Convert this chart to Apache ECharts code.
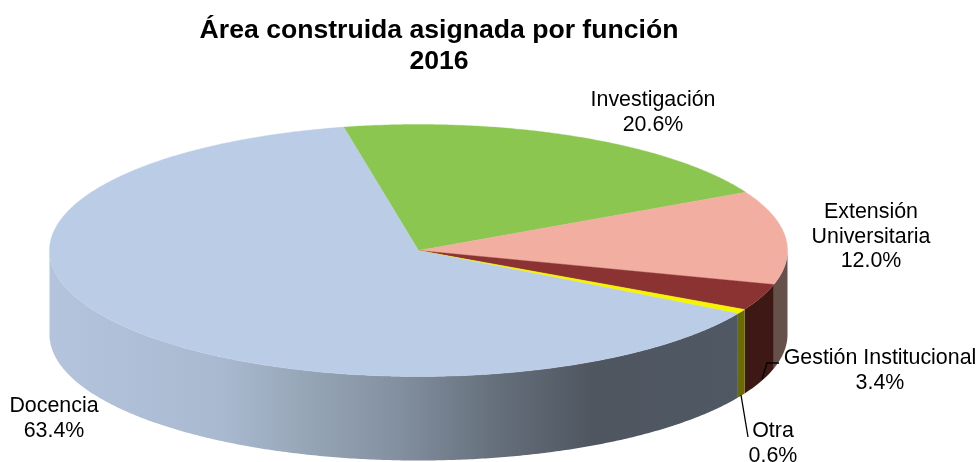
<!DOCTYPE html>
<html><head><meta charset="utf-8">
<style>html,body{margin:0;padding:0;background:#fff}#c{width:977px;height:462px}</style>
<script src="https://cdn.jsdelivr.net/npm/echarts@6/dist/echarts.min.js"></script>
</head><body><div id="c"></div>
<script>
const categories = ['Investigación', 'Extensión\nUniversitaria', 'Gestión Institucional', 'Otra', 'Docencia'];
const shares = [20.6, 12.0, 3.4, 0.6, 63.4];
const topColors = ['#8BC750', '#F2AEA0', '#8B3232', '#F5F500', '#BBCDE6'];
const wallColors = ['#5A7A38', '#66504A', '#3E1815', '#6B6B00', null];
const labelAnchors = [[653, 100], [871, 212], [880, 358], [773, 431], [54, 406]];
const docenciaWallStops = [[0, '#B3C4DC'], [0.25, '#A9B9D0'], [0.364, '#98A7B8'], [0.51, '#828F9F'], [0.655, '#646E7A'], [0.79, '#4F5660'], [1, '#4F5863']];

const cx = 418.5, cy = 250.5, rx = 369, ry = 126, depth = 84, startDeg = 101.7;
const total = shares.reduce((a, b) => a + b, 0);
const pt = (deg, dy) => {
  const r = deg * Math.PI / 180;
  return [cx + rx * Math.cos(r), cy - ry * Math.sin(r) + (dy || 0)];
};
function arc(from, to, dy) {
  const out = [], n = Math.max(2, Math.ceil(Math.abs(to - from) / 0.5));
  for (let i = 0; i <= n; i++) out.push(pt(from + (to - from) * i / n, dy));
  return out;
}
function renderItem(params, api) {
  const i = params.dataIndex;
  let before = 0;
  for (let k = 0; k < i; k++) before += api.value(1, k);
  const a0 = startDeg - before / total * 360;
  const a1 = a0 - api.value(1) / total * 360;
  const children = [];
  const wFrom = Math.min(a0, 0), wTo = Math.max(a1, -180);
  if (wFrom > wTo) {
    const fill = wallColors[i] || new echarts.graphic.LinearGradient(cx - rx, 0, pt(a0 > 0 ? -29 : a0)[0], 0,
      docenciaWallStops.map(s => ({ offset: s[0], color: s[1] })), true);
    const pts = arc(wFrom, wTo, 0).concat(arc(wTo, wFrom, depth));
    children.push({ type: 'polygon', shape: { points: pts }, style: { fill: fill, stroke: null }, z2: 1 });
  }
  children.push({
    type: 'polygon', shape: { points: [[cx, cy]].concat(arc(a0, a1, 0)) },
    style: { fill: topColors[i], stroke: topColors[i], lineWidth: 0.4 }, z2: 2
  });
  const name = categories[i], a = labelAnchors[i];
  children.push({
    type: 'text', z2: 5, x: a[0], y: a[1] - 12,
    style: {
      text: name + '\n' + api.value(1).toFixed(1) + '%',
      x: 0, y: 0, align: 'center', verticalAlign: 'top',
      font: '21.4px "Liberation Sans", Arial, sans-serif', lineHeight: 24.5, fill: '#000'
    }
  });
  return { type: 'group', children: children };
}
const chart = echarts.init(document.getElementById('c'), null, { renderer: 'canvas' });
chart.setOption({
  animation: false,
  backgroundColor: '#fff',
  title: {
    text: 'Área construida asignada por función\n2016',
    left: 434, top: 10, textAlign: 'center',
    textStyle: { fontFamily: '"Liberation Sans", Arial, sans-serif', fontWeight: 'bold', fontSize: 26.6, lineHeight: 31, color: '#000' }
  },
  series: [{
    type: 'custom', coordinateSystem: 'none', renderItem: renderItem,
    data: categories.map((c, i) => [i, shares[i]])
  }],
  graphic: [
    { type: 'polyline', z: 10, shape: { points: [[762, 379], [767, 363], [779, 363]] }, style: { stroke: '#000', lineWidth: 1.3, fill: null } },
    { type: 'polyline', z: 10, shape: { points: [[741, 395], [748, 437]] }, style: { stroke: '#000', lineWidth: 1.3, fill: null } }
  ]
});
</script></body></html>
